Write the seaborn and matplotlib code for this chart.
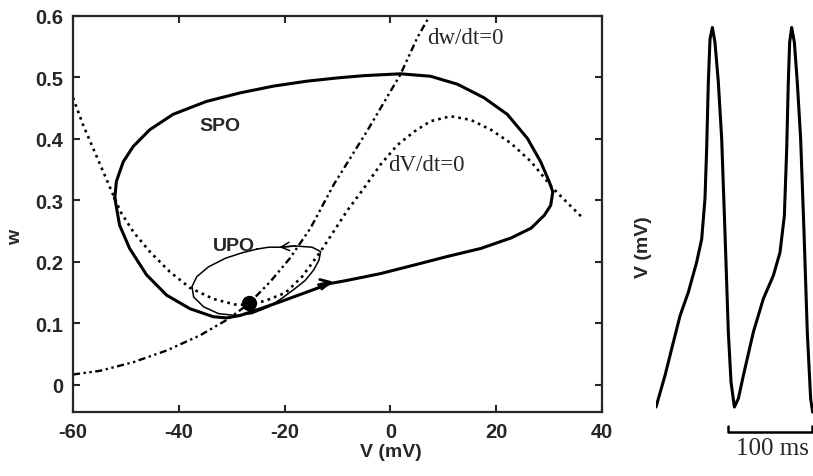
import numpy as np
import pandas as pd
import seaborn as sns
from matplotlib import pyplot as plt

# phase plane curves: V (mV), w
spo_v = [-52.1, -51.8, -50.5, -48.6, -45.5, -41.1, -34.8, -28.4, -22.1, -15.8, -9.8, -5.0,
         1.9, 7.6, 12.7, 17.7, 22.1, 25.9, 28.4, 30.0, 30.7, 30.3, 29.1, 26.6, 22.8, 17.1,
         10.8, 4.5, -1.9, -8.2, -11.4, -15.8, -20.9, -24.6, -28.4, -31.0, -33.5, -37.9,
         -42.3, -46.1, -49.3, -51.2, -52.1]
spo_w = [0.304, 0.331, 0.363, 0.388, 0.415, 0.440, 0.461, 0.475, 0.486, 0.494, 0.4995, 0.503,
         0.506, 0.502, 0.489, 0.467, 0.440, 0.401, 0.363, 0.331, 0.314, 0.292, 0.276, 0.255,
         0.239, 0.222, 0.209, 0.195, 0.181, 0.170, 0.165, 0.151, 0.135, 0.124, 0.113, 0.109,
         0.111, 0.124, 0.146, 0.179, 0.222, 0.260, 0.304]

upo_v = [-25.2, -23.0, -20.8, -18.0, -14.8, -13.2, -13.5, -14.5, -16.1, -18.0, -20.5, -23.0,
         -26.2, -29.3, -32.5, -35.3, -37.2, -37.5, -36.6, -34.4, -31.2, -28.0, -25.2]
upo_w = [0.221, 0.224, 0.224, 0.226, 0.224, 0.217, 0.203, 0.187, 0.170, 0.157, 0.141, 0.127,
         0.116, 0.113, 0.116, 0.127, 0.143, 0.160, 0.176, 0.192, 0.206, 0.215, 0.221]

wnull_v = [-60.0, -54.9, -48.6, -42.3, -35.9, -30.9, -26.9, -22.7, -19.0, -15.1, -10.7,
           -4.4, 1.9, 5.1, 7.6]
wnull_w = [0.017, 0.023, 0.037, 0.056, 0.081, 0.106, 0.131, 0.168, 0.206, 0.255, 0.326,
           0.413, 0.505, 0.565, 0.603]

vnull_v = [-60.0, -58.1, -56.2, -54.3, -52.4, -50.9, -48.6, -45.5, -41.7, -37.9, -33.5,
           -29.5, -26.9, -23.6, -19.8, -16.7, -13.2, -8.2, -5.0, -1.9, 1.3, 4.5, 7.6, 11.4,
           15.2, 19.0, 22.8, 26.6, 30.7, 32.9, 36.3]
vnull_w = [0.467, 0.423, 0.385, 0.347, 0.309, 0.280, 0.249, 0.217, 0.184, 0.158, 0.140,
           0.131, 0.130, 0.137, 0.150, 0.176, 0.217, 0.283, 0.320, 0.358, 0.390, 0.412,
           0.429, 0.437, 0.431, 0.415, 0.393, 0.363, 0.320, 0.301, 0.272]

fixed_point = (-26.8, 0.1335)

# voltage trace: time (ms), V (mV)
trace_t = [0, 10.7, 18.7, 28.6, 38.5, 48.4, 54.4, 58.3, 60.3, 62.3, 64.3, 67.1, 70.2, 74.2,
           78.2, 82.1, 86.1, 89.3, 93.3, 98.0, 104.0, 115.9, 127.8, 139.7, 147.6, 152.8,
           155.6, 157.5, 159.1, 161.5, 164.7, 168.2, 172.2, 176.2, 180.1, 184.1, 186.5]
trace_v = [-52.1, -45.3, -39.5, -32.4, -27.3, -20.8, -15.8, -7.1, 3.7, 18.1, 27.4, 29.9, 26.7,
           18.1, 5.8, -14.3, -35.9, -46.7, -52.1, -50.3, -45.3, -35.9, -28.7, -23.7, -18.7,
           -10.8, 3.7, 18.1, 26.7, 29.9, 26.7, 18.1, 5.8, -14.3, -35.9, -50.3, -53.2]

x_ticks = [-60, -40, -20, 0, 20, 40]
y_ticks = [0, 0.1, 0.2, 0.3, 0.4, 0.5, 0.6]
y_ticklabels = ['0', '0.1', '0.2', '0.3', '0.4', '0.5', '0.6']

sns.set_style('ticks')
plt.rcParams['font.family'] = ['Liberation Sans', 'DejaVu Sans']
serif = ['Liberation Serif', 'DejaVu Serif']

fig = plt.figure(figsize=(8.13, 4.77), dpi=100)
ax = fig.add_axes([73 / 813, 1 - 413 / 477, 529 / 813, 396 / 477])

# nullclines
sns.lineplot(x=vnull_v, y=vnull_w, sort=False, estimator=None, ax=ax, color='black',
             lw=1.9, linestyle=(0, (1, 1.6)))
sns.lineplot(x=wnull_v, y=wnull_w, sort=False, estimator=None, ax=ax, color='black',
             lw=1.7, linestyle=(0, (3, 1.5, 1, 1.5, 1, 1.5)))
# periodic orbits
sns.lineplot(x=spo_v, y=spo_w, sort=False, estimator=None, ax=ax, color='black', lw=2.2)
sns.lineplot(x=upo_v, y=upo_w, sort=False, estimator=None, ax=ax, color='black', lw=1.1)
ax.plot(*fixed_point, 'o', color='black', ms=10)

ax.annotate('', xy=(-10.8, 0.168), xytext=(-13.6, 0.163),
            arrowprops=dict(arrowstyle='->,head_length=0.7,head_width=0.35', lw=2,
                            color='black', shrinkA=0, shrinkB=0))
ax.annotate('', xy=(-21.0, 0.224), xytext=(-18.0, 0.226),
            arrowprops=dict(arrowstyle='->,head_length=0.6,head_width=0.3', lw=1.1,
                            color='black', shrinkA=0, shrinkB=0))

ax.text(-32.2, 0.422, 'SPO', fontsize=14, fontweight='bold', ha='center', va='center')
ax.text(-29.5, 0.226, 'UPO', fontsize=14, fontweight='bold', ha='center', va='center')
ax.text(7.0, 0.565, 'dw/dt=0', family=serif, fontsize=16.5, ha='left', va='center')
ax.text(-0.5, 0.358, 'dV/dt=0', family=serif, fontsize=16.5, ha='left', va='center')

ax.set_xlim(-60, 40)
ax.set_ylim(-0.044, 0.6)
ax.set_xticks(x_ticks)
ax.set_xticklabels([str(t) for t in x_ticks])
ax.set_yticks(y_ticks)
ax.set_yticklabels(y_ticklabels)
ax.tick_params(direction='in', top=True, right=True, length=5, width=1.5,
               labelsize=14.5, pad=7)
for lab in ax.get_xticklabels() + ax.get_yticklabels():
    lab.set_fontweight('bold')
for sp in ax.spines.values():
    sp.set_visible(True)
    sp.set_linewidth(1.6)
ax.set_xlabel('')
ax.set_ylabel('')
ax.text(0, -0.108, 'V (mV)', fontsize=14, fontweight='bold', ha='center', va='center')
fig.text(16 / 813, 1 - 237 / 477, 'w', fontsize=14, fontweight='bold', rotation=90,
         ha='center', va='center')

# voltage trace panel
ax2 = fig.add_axes([656 / 813, 0, 157 / 813, 1])
sns.lineplot(x=trace_t, y=trace_v, sort=False, estimator=None, ax=ax2, color='black', lw=2.2)
ax2.set_xlim(0, 186.9)
ax2.set_ylim(-67.0, 36.05)
ax2.axis('off')
ax2.plot([85.7, 85.7, 185.7, 185.7], [-56.2, -57.5, -57.5, -56.2], color='black', lw=1.8,
         clip_on=False)
ax2.text(138.7, -60.9, '100 ms', family=serif, fontsize=18, ha='center', va='center')
fig.text(643 / 813, 1 - 247 / 477, 'V (mV)', fontsize=14, fontweight='bold', rotation=90,
         ha='center', va='center')

fig.savefig('out.png', dpi=100)
